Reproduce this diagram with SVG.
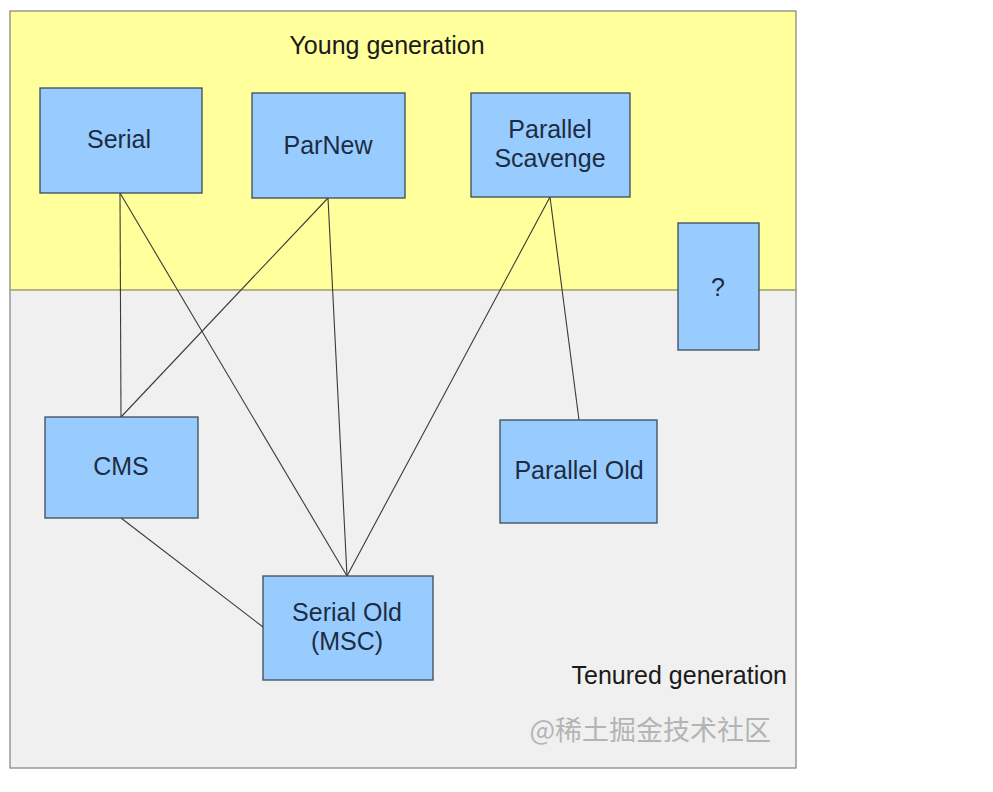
<svg xmlns="http://www.w3.org/2000/svg" width="993" height="792" viewBox="0 0 993 792">
<style>
.box{fill:#99ccfe;stroke:#3d4a58;stroke-width:1.3}
.lbl{font-family:"Liberation Sans",Arial,sans-serif;font-size:25px;fill:#1c2c44;text-anchor:middle}
.zone{font-family:"Liberation Sans",Arial,sans-serif;fill:#1a1a1a}
.conn line{stroke:#3a3a3a;stroke-width:1.1}
</style>
<rect x="0" y="0" width="993" height="792" fill="#ffffff"/>
<g id="young-zone">
<rect x="10" y="11" width="786" height="279" fill="#ffff9c" stroke="#8a8a80" stroke-width="1.3"/>
<text class="zone" x="387" y="54" font-size="25" text-anchor="middle">Young generation</text>
</g>
<g id="tenured-zone">
<rect x="10" y="290" width="786" height="478" fill="#f0f0f0" stroke="#8a8a8a" stroke-width="1.3"/>
<line x1="10" y1="290" x2="796" y2="290" stroke="#b8b880" stroke-width="1.3"/>
<text class="zone" x="787" y="684" font-size="25" text-anchor="end">Tenured generation</text>
</g>
<g class="conn" id="connectors">
<line x1="120" y1="193" x2="121" y2="417"/>
<line x1="120" y1="193" x2="347" y2="576"/>
<line x1="328" y1="198" x2="121" y2="417"/>
<line x1="328" y1="198" x2="347" y2="576"/>
<line x1="550" y1="197" x2="347" y2="576"/>
<line x1="550" y1="197" x2="579" y2="420"/>
<line x1="121" y1="518" x2="263" y2="627"/>
</g>
<g id="serial"><rect class="box" x="40" y="88" width="162" height="105"/><text class="lbl" x="119" y="148">Serial</text></g>
<g id="parnew"><rect class="box" x="252" y="93" width="153" height="105"/><text class="lbl" x="328" y="154">ParNew</text></g>
<g id="parallel-scavenge"><rect class="box" x="471" y="93" width="159" height="104"/><text class="lbl" x="550" y="138">Parallel</text><text class="lbl" x="550" y="167">Scavenge</text></g>
<g id="unknown"><rect class="box" x="678" y="223" width="81" height="127"/><text class="lbl" x="718" y="296">?</text></g>
<g id="cms"><rect class="box" x="45" y="417" width="153" height="101"/><text class="lbl" x="121" y="475">CMS</text></g>
<g id="parallel-old"><rect class="box" x="500" y="420" width="157" height="103"/><text class="lbl" x="579" y="479">Parallel Old</text></g>
<g id="serial-old"><rect class="box" x="263" y="576" width="170" height="104"/><text class="lbl" x="347" y="621">Serial Old</text><text class="lbl" x="347" y="650">(MSC)</text></g>
<text x="771" y="740" font-family="'Noto Sans CJK SC','Liberation Sans',sans-serif" font-size="27" fill="#b4b4b4" text-anchor="end">@稀土掘金技术社区</text>
</svg>
